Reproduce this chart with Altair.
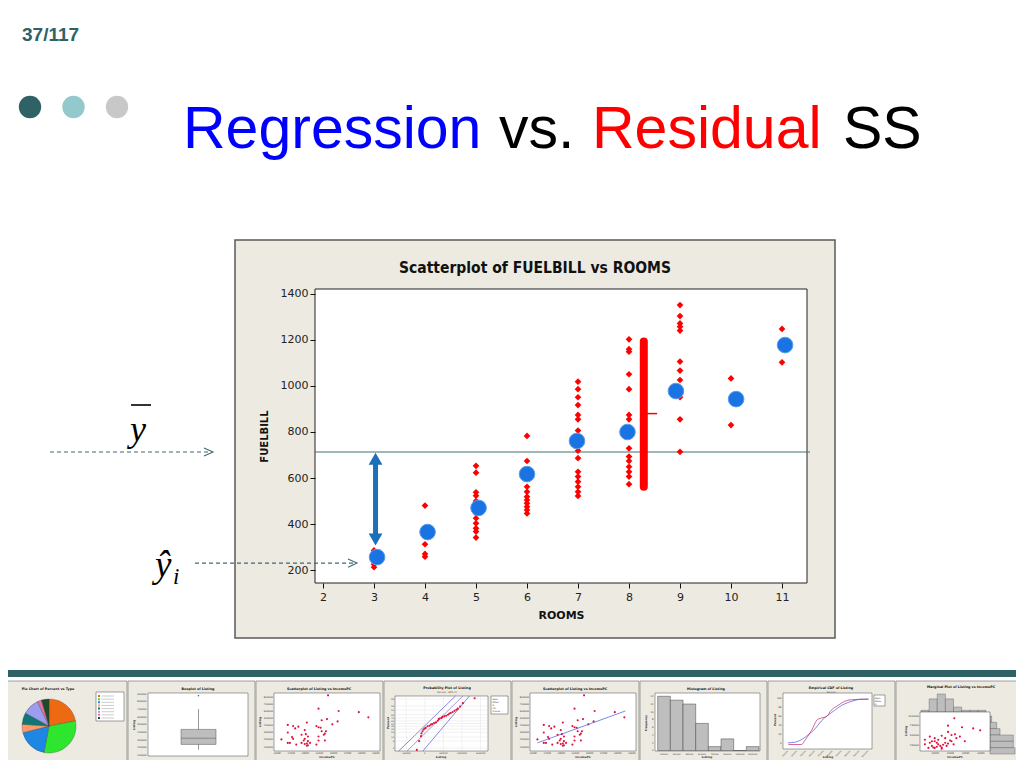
import altair as alt
import pandas as pd

# ------------------------------------------------------------------ data
ROOMS = [3, 4, 5, 6, 7, 8, 9, 10, 11]
FUEL_3 = [285, 265, 245, 225, 212]
FUEL_4 = [480, 380, 360, 312, 270, 258]
FUEL_5 = [653, 623, 538, 523, 500, 470, 446, 425, 403, 381, 367, 341]
FUEL_6 = [783, 674, 630, 600, 562, 540, 519, 504, 490, 475, 461, 446]
FUEL_7 = [1019, 986, 951, 917, 874, 855, 806, 740, 719, 686, 627, 606, 584, 562, 540, 522]
FUEL_8 = [1203, 1160, 1149, 1051, 986, 874, 855, 729, 693, 674, 649, 627, 606, 573]
FUEL_9 = [1352, 1304, 1272, 1258, 1241, 1106, 1067, 1026, 951, 855, 714]
FUEL_10 = [1033, 830]
FUEL_11 = [1248, 1103]
FITTED_X = [3.06, 4.05, 5.05, 6.0, 6.98, 7.97, 8.92, 10.1, 11.06]
FITTED = [256, 365, 470, 617, 761, 800, 978, 943, 1178]
YBAR = 713
YHAT_LEVEL = 230
REG_ROOM, REG_LO, REG_HI = 3.03, 333, 684
RES_ROOM, RES_LO, RES_HI = 8.29, 562, 1193
RES_TICK_X, RES_TICK_Y = [8.35, 8.55], 880
X_TICKS = [2, 3, 4, 5, 6, 7, 8, 9, 10, 11]
Y_TICKS = [200, 400, 600, 800, 1000, 1200, 1400]
X_DOMAIN = [1.843, 11.49]
Y_DOMAIN = [143.5, 1421.7]

# thumbnails (local units 0-100 where no scale is legible)
PIE_PCT = [22, 31, 18, 5, 7, 10, 2.5, 4.5]
BOX_LO, BOX_Q1, BOX_MED, BOX_Q3, BOX_HI, BOX_OUT = 170000, 239000, 320000, 436000, 703000, 877000
SCAT_X = [51, 42, 61, 80, 89, 31, 50, 45, 40, 42, 44, 60, 55, 13, 18, 23, 13, 20, 29, 26, 30, 32, 17,
          18, 7, 29, 42, 49, 48, 47, 28, 32, 34, 31, 13, 15, 21, 26, 29, 42, 40, 32, 31, 48, 45]
SCAT_Y = [96, 73, 69, 67, 58, 49, 55, 53, 43, 41, 40, 51, 46, 45, 43, 42, 32, 39, 36, 28, 29, 25, 24,
          21, 20, 21, 25, 34, 30, 28, 18, 17, 14, 13, 14, 14, 11, 14, 12, 18, 11, 10, 9, 18, 34]
FIT_LINE_X = [7, 90]
FIT_LINE_Y = [14, 69]
PROB_X = [23.5, 26, 28, 28.5, 29.6, 30.7, 31.8, 33, 35, 37, 38.6, 40, 42, 44, 46, 47, 48, 50, 51, 53,
          55, 57, 58.5, 60, 62, 64, 66, 67.5, 70, 73, 85.6]
PROB_Y = [2, 18, 27, 32, 36, 39, 41, 42, 45, 46, 48, 49, 51, 52, 55, 58, 59, 60, 62, 63,
          64, 66, 68, 69, 71, 73, 75, 77, 81, 87, 96]
PROB_LOWER = [[4, 0], [65, 100]]
PROB_FIT = [[13, 0], [73, 100]]
PROB_UPPER = [[30, 0], [80, 100]]
PROB_Z = [-2.326, -1.645, -1.282, -0.842, -0.524, -0.253, 0, 0.253, 0.524, 0.842, 1.282, 1.645, 2.326]
PROB_PCT = ["1", "5", "10", "20", "30", "40", "50", "60", "70", "80", "90", "95", "99"]
HIST_COUNTS = [14, 13, 12, 7, 1, 3, 0, 1]
HIST_LABELS = ["150000", "300000", "450000", "600000", "750000", "900000", "1050000", "1200000"]
ECDF_FIT_X = [5.6, 13, 21, 28, 36, 43, 51, 58, 66, 73, 81, 88, 96]
ECDF_FIT_Y = [11, 12, 17, 25, 36, 50, 61, 69, 78, 83, 87, 89, 89]
ECDF_EMP_X = [6, 21, 24, 32, 39, 45, 49, 54, 62, 69, 77, 96]
ECDF_EMP_Y = [8, 8, 14, 33, 53, 56, 58, 69, 78, 85, 88, 89]
MARG_X = [49, 40, 60, 76, 86, 14, 21, 31, 40, 45, 50, 52, 7, 17, 24, 26, 29, 31, 33, 36, 40, 43, 17,
          19, 21, 24, 12, 31, 38, 45, 57, 64, 26, 21, 36, 48, 7, 14]
MARG_Y = [84, 65, 61, 58, 53, 37, 33, 39, 49, 41, 43, 33, 17, 25, 21, 17, 13, 9, 16, 21, 19, 27, 13,
          9, 8, 11, 8, 6, 13, 25, 37, 25, 29, 25, 33, 17, 29, 21]
MARG_TOP = [1, 8, 11, 8, 3, 1, 1, 1]
MARG_RIGHT = [1, 4, 6, 14, 14, 15]

# ------------------------------------------------------------------ layout / style
OX, OY = 315, 289          # page position of the scatter plot area
VW, VH = 492, 294
MF = "DejaVu Sans"
SF = "Liberation Sans"
SERIF = "Liberation Serif"
TEAL = "#2E6264"
DOT_COLORS = ["#2E6264", "#93C8CC", "#C8C8C8"]
PIE_COLORS = ["#EE6A12", "#2FE62F", "#1E86E3", "#FF9966", "#117676", "#9C9CF0", "#E8729C", "#1F4A2A"]
BEIGE = "#EDEAE1"
RED_PT = "#E0103C"
TB = 751            # bottom of thumbnail plot areas (page is cut just below)

def pxx(v):
    return v - OX

def pxy(v):
    return v - OY

ONE = pd.DataFrame({"k": [0]})

def sc(lo, hi, r0=None, r1=None):
    if r0 is None:
        return alt.Scale(domain=[lo, hi], nice=False, zero=False)
    return alt.Scale(domain=[lo, hi], range=[r0, r1], nice=False, zero=False)

def sx(lo, hi, p0, p1):
    return sc(lo, hi, pxx(p0), pxx(p1))

def sy(lo, hi, pb, pt):
    return sc(lo, hi, pxy(pb), pxy(pt))

def prect(x0, x1, y0, y1, **kw):
    return alt.Chart(ONE).mark_rect(**kw).encode(
        x=alt.value(pxx(x0)), x2=alt.value(pxx(x1)),
        y=alt.value(pxy(y0)), y2=alt.value(pxy(y1)))

def ptext(txt, x, y, **kw):
    return alt.Chart(ONE).mark_text(text=txt, **kw).encode(
        x=alt.value(pxx(x)), y=alt.value(pxy(y)))

def phrule(x0, x1, y, **kw):
    return alt.Chart(ONE).mark_rule(**kw).encode(
        x=alt.value(pxx(x0)), x2=alt.value(pxx(x1)), y=alt.value(pxy(y)))

def tiny(txt, x, y, size=2.6, **kw):
    base = dict(font=MF, fontSize=size, color="#333")
    base.update(kw)
    return ptext(txt, x, y, **base)

def ylabels(vals, labels, scale, xpage, size=2.4):
    df = pd.DataFrame({"v": vals, "t": labels})
    return alt.Chart(df).mark_text(align="right", baseline="middle", font=MF, fontSize=size,
                                   color="#333").encode(
        y=alt.Y("v:Q", scale=scale, axis=None), x=alt.value(pxx(xpage)), text="t:N")

def xlabels(vals, labels, scale, ypage, size=2.3, angle=0, align="center"):
    df = pd.DataFrame({"v": vals, "t": labels})
    return alt.Chart(df).mark_text(align=align, baseline="middle", font=MF, fontSize=size,
                                   color="#333", angle=angle).encode(
        x=alt.X("v:Q", scale=scale, axis=None), y=alt.value(pxy(ypage)), text="t:N")

layers = []

# ------------------------------------------------------------------ slide header
layers.append(ptext("37/117", 22, 35, align="left", font=SF, fontSize=19, fontWeight="bold", color=TEAL))
dots = pd.DataFrame({"x": [pxx(30 + 43.5 * i) for i in range(3)], "c": DOT_COLORS})
layers.append(alt.Chart(dots).mark_circle(size=500, opacity=1).encode(
    x=alt.X("x:Q", scale=None), y=alt.value(pxy(107)), color=alt.Color("c:N", scale=None)))
for txt, x0, col in [("Regression", 183, "#0000FF"), ("vs.", 499, "#000000"),
                     ("Residual", 592, "#FF0000"), ("SS", 843, "#000000")]:
    layers.append(ptext(txt, x0, 130, align="left", font=SF, fontSize=59, color=col))

# y-bar and y-hat symbols
layers.append(ptext("y", 138, 430, align="center", font=SERIF, fontStyle="italic", fontSize=36, color="black"))
layers.append(phrule(131, 151, 405, color="black", strokeWidth=1.6))
layers.append(ptext("ŷ", 155, 566, align="left", font=SERIF, fontStyle="italic", fontSize=37, color="black"))
layers.append(ptext("i", 173, 577, align="left", font=SERIF, fontStyle="italic", fontSize=23, color="black"))

# ------------------------------------------------------------------ Minitab frame
layers.append(prect(235, 835, 240, 638, fill=BEIGE, stroke="#5A5A5A", strokeWidth=1.5))
layers.append(prect(315, 807, 289, 583, fill="white", stroke="#222222", strokeWidth=1))
layers.append(ptext("Scatterplot of FUELBILL vs ROOMS", 535, 268, align="center", baseline="middle",
                    font="DejaVu Sans Condensed, DejaVu Sans", fontSize=15.5, fontWeight="bold", color="#111"))

XS = sc(*X_DOMAIN)
YS = sc(*Y_DOMAIN)

# mean line
layers.append(alt.Chart(pd.DataFrame({"y": [YBAR]})).mark_rule(color="#41706F", strokeWidth=1).encode(
    y=alt.Y("y:Q", scale=YS, axis=None), x=alt.value(0), x2=alt.value(VW + 3)))

# residual bracket
layers.append(alt.Chart(pd.DataFrame({"x": [RES_ROOM], "lo": [RES_LO], "hi": [RES_HI]})).mark_rule(
    color="#FF0000", strokeWidth=8, strokeCap="round").encode(
    x=alt.X("x:Q", scale=XS, axis=None), y=alt.Y("lo:Q", scale=YS, axis=None), y2="hi:Q"))
layers.append(alt.Chart(pd.DataFrame({"x": [RES_TICK_X[0]], "x2": [RES_TICK_X[1]], "y": [RES_TICK_Y]})).mark_rule(
    color="#FF0000", strokeWidth=1.5).encode(
    x=alt.X("x:Q", scale=XS, axis=None), x2="x2:Q", y=alt.Y("y:Q", scale=YS, axis=None)))

# red data points
red_rows = []
for r, vals in zip(ROOMS, [FUEL_3, FUEL_4, FUEL_5, FUEL_6, FUEL_7, FUEL_8, FUEL_9, FUEL_10, FUEL_11]):
    for v in vals:
        red_rows.append({"ROOMS": r, "FUELBILL": v})
df_red = pd.DataFrame(red_rows)

AX = alt.Axis(values=X_TICKS, title="ROOMS", grid=False, domain=False, tickSize=5, tickColor="#111",
              labelFont=MF, labelFontSize=11, labelColor="#222", labelPadding=3, labelFlush=False,
              titleFont=MF, titleFontSize=11, titleFontWeight="bold", titleColor="#111",
              titlePadding=7, zindex=1)
AY = alt.Axis(values=Y_TICKS, format="d", title="FUELBILL", grid=False, domain=False, tickSize=5,
              tickColor="#111", labelFont=MF, labelFontSize=11, labelColor="#222", labelPadding=2,
              titleFont=MF, titleFontSize=10, titleFontWeight="bold", titleColor="#111",
              titlePadding=11, zindex=1)
layers.append(alt.Chart(df_red).mark_point(shape="diamond", filled=True, color="#FF0000", size=45,
                                           opacity=1).encode(
    x=alt.X("ROOMS:Q", scale=XS, axis=AX), y=alt.Y("FUELBILL:Q", scale=YS, axis=AY)))

# fitted values (blue circles)
df_fit = pd.DataFrame({"x": FITTED_X, "y": FITTED})
layers.append(alt.Chart(df_fit).mark_circle(size=245, color="#1A73E3", opacity=1, stroke="#5C9CEA",
                                            strokeWidth=1).encode(
    x=alt.X("x:Q", scale=XS, axis=None), y=alt.Y("y:Q", scale=YS, axis=None)))

# regression double arrow
BLUE_AR = "#1C6FB9"
layers.append(alt.Chart(pd.DataFrame({"x": [REG_ROOM], "lo": [REG_LO], "hi": [REG_HI]})).mark_rule(
    color=BLUE_AR, strokeWidth=5).encode(
    x=alt.X("x:Q", scale=XS, axis=None), y=alt.Y("lo:Q", scale=YS, axis=None), y2="hi:Q"))
layers.append(alt.Chart(pd.DataFrame({"x": [REG_ROOM, REG_ROOM], "y": [REG_HI, REG_LO],
                                      "s": ["triangle-up", "triangle-down"]})).mark_point(
    filled=True, size=190, color=BLUE_AR, opacity=1).encode(
    x=alt.X("x:Q", scale=XS, axis=None), y=alt.Y("y:Q", scale=YS, axis=None),
    shape=alt.Shape("s:N", scale=None)))

# dashed pointer arrows
CHEV = "M-1,-0.45L0,0L-1,0.45"
ARC = "#3E6B6E"
for level, x0, x1 in [(YBAR, 50, 213), (YHAT_LEVEL, 195, 357)]:
    d = pd.DataFrame({"y": [level]})
    layers.append(alt.Chart(d).mark_rule(color=ARC, strokeWidth=1.1, strokeDash=[4, 3]).encode(
        x=alt.value(pxx(x0)), x2=alt.value(pxx(x1 - 1)), y=alt.Y("y:Q", scale=YS, axis=None)))
    layers.append(alt.Chart(d).mark_point(shape=CHEV, filled=False, size=324, stroke=ARC,
                                          strokeWidth=1.1, opacity=1).encode(
        x=alt.value(pxx(x1)), y=alt.Y("y:Q", scale=YS, axis=None)))

# ------------------------------------------------------------------ bottom strip
layers.append(prect(8, 1016, 670, 677, fill=TEAL))
PW = 128
frames = pd.DataFrame({"x0": [pxx(i * PW) for i in range(8)], "x1": [pxx(i * PW + 127) for i in range(8)]})
layers.append(alt.Chart(frames).mark_rect(fill="#EDEAE2", stroke="#8A8A8A", strokeWidth=0.8).encode(
    x=alt.X("x0:Q", scale=None), x2="x1:Q", y=alt.value(pxy(681)), y2=alt.value(pxy(775))))

# marginal histograms (drawn before the white plot areas)
mt = pd.DataFrame({"a": list(range(8)), "b": [i + 1 for i in range(8)], "c": MARG_TOP, "z": [0] * 8})
layers.append(alt.Chart(mt).mark_rect(fill="#BDBDBD", stroke="#555", strokeWidth=0.4).encode(
    x=alt.X("a:Q", scale=sx(0, 8, 921, 986), axis=None), x2="b:Q",
    y=alt.Y("z:Q", scale=sy(0, 11, 712, 694), axis=None), y2="c:Q"))
mr = pd.DataFrame({"a": list(range(6)), "b": [i + 1 for i in range(6)], "c": MARG_RIGHT, "z": [0] * 6})
layers.append(alt.Chart(mr).mark_rect(fill="#BDBDBD", stroke="#555", strokeWidth=0.4).encode(
    y=alt.Y("a:Q", scale=sc(0, 6, pxy(716), pxy(754)), axis=None), y2="b:Q",
    x=alt.X("z:Q", scale=sx(0, 15, 990, 1015), axis=None), x2="c:Q"))

WHITE = [(148, 248, 693, 756), (274, 380, 693, TB), (395, 488, 696, TB), (530, 636, 693, TB),
         (655, 760, 693, TB), (783, 872, 693, 749), (920, 990, 712, TB),
         (96, 124, 692, 721), (491, 508, 696, 714), (874, 885, 695, 706)]
wdf = pd.DataFrame({"x0": [pxx(w[0]) for w in WHITE], "x1": [pxx(w[1]) for w in WHITE],
                    "y0": [pxy(w[2]) for w in WHITE], "y1": [pxy(w[3]) for w in WHITE]})
layers.append(alt.Chart(wdf).mark_rect(fill="white", stroke="#444", strokeWidth=0.5).encode(
    x=alt.X("x0:Q", scale=None), x2="x1:Q", y=alt.Y("y0:Q", scale=None), y2="y1:Q"))

TITLES = [("Pie Chart of Percent vs Type", 48, 689), ("Boxplot of Listing", 198, 689),
          ("Scatterplot of Listing vs IncomePC", 319, 689), ("Probability Plot of Listing", 447, 687.5),
          ("Scatterplot of Listing vs IncomePC", 575, 689), ("Histogram of Listing", 706, 689),
          ("Empirical CDF of Listing", 831, 687.5), ("Marginal Plot of Listing vs IncomePC", 961, 686.5)]
for t, x, y in TITLES:
    layers.append(tiny(t, x, y, size=3.3, fontWeight="bold", color="#111", align="center", baseline="middle"))
layers.append(tiny("Normal - 95% CI", 447, 692, size=2.4, color="#444", align="center", baseline="middle"))
layers.append(tiny("Normal", 831, 692, size=2.4, color="#444", align="center", baseline="middle"))

# --- P1 pie
pie = pd.DataFrame({"i": list(range(len(PIE_PCT))), "pct": PIE_PCT, "c": PIE_COLORS})
layers.append(alt.Chart(pie).mark_arc(radius=27, stroke="#333", strokeWidth=0.3).encode(
    theta=alt.Theta("pct:Q", stack=True), order=alt.Order("i:Q"), fill=alt.Fill("c:N", scale=None),
    x=alt.value(pxx(49)), y=alt.value(pxy(726))))
layers.append(alt.Chart(pie).mark_square(size=4, opacity=1).encode(
    y=alt.Y("i:Q", scale=sy(0, 7, 696, 718), axis=None), x=alt.value(pxx(99)),
    color=alt.Color("c:N", scale=None)))
layers.append(alt.Chart(pie).mark_rule(color="#AAAAAA", strokeWidth=0.6).encode(
    y=alt.Y("i:Q", scale=sy(0, 7, 696, 718), axis=None), x=alt.value(pxx(101.5)), x2=alt.value(pxx(114))))

# --- P2 boxplot
BOXS = sy(100000, 900000, 755, 694)
box = pd.DataFrame({"lo": [BOX_LO], "q1": [BOX_Q1], "m": [BOX_MED], "q3": [BOX_Q3], "hi": [BOX_HI], "o": [BOX_OUT]})
layers.append(alt.Chart(box).mark_rule(color="#555", strokeWidth=0.6).encode(
    x=alt.value(pxx(198.5)), y=alt.Y("lo:Q", scale=BOXS, axis=None), y2="hi:Q"))
layers.append(alt.Chart(box).mark_rect(fill="#BDBDBD", stroke="#555", strokeWidth=0.5).encode(
    x=alt.value(pxx(181)), x2=alt.value(pxx(216)), y=alt.Y("q1:Q", scale=BOXS, axis=None), y2="q3:Q"))
layers.append(alt.Chart(box).mark_rule(color="#555", strokeWidth=0.5).encode(
    x=alt.value(pxx(181)), x2=alt.value(pxx(216)), y=alt.Y("m:Q", scale=BOXS, axis=None)))
layers.append(alt.Chart(box).mark_point(shape="cross", filled=True, size=3, color="#555", opacity=1).encode(
    x=alt.value(pxx(198.5)), y=alt.Y("o:Q", scale=BOXS, axis=None)))
bv = [100000 * k for k in range(1, 10)]
layers.append(ylabels(bv, [str(v) for v in bv], BOXS, 146.5))
layers.append(tiny("Listing", 134, 725, size=2.8, fontWeight="bold", angle=270, align="center", baseline="middle"))

# --- P3 & P5 scatter
scat = pd.DataFrame({"x": SCAT_X, "y": SCAT_Y})
for x0, x1 in [(274, 380), (530, 636)]:
    layers.append(alt.Chart(scat).mark_circle(size=4.5, color=RED_PT, opacity=1).encode(
        x=alt.X("x:Q", scale=sx(0, 100, x0, x1), axis=None), y=alt.Y("y:Q", scale=sy(0, 100, TB, 693), axis=None)))
    lv = [100000 * k for k in range(1, 9)]
    layers.append(ylabels(lv, [str(v) for v in lv], sy(40000, 860000, TB, 693), x0 - 1))
    iv = [15000 + 2500 * k for k in range(8)]
    layers.append(xlabels(iv, [str(v) for v in iv], sx(14440, 33240, x0, x1), 753.5))
    layers.append(tiny("IncomePC", (x0 + x1) / 2, 757, size=2.8, fontWeight="bold", align="center", baseline="middle"))
    layers.append(tiny("Listing", x0 - 14, 722, size=2.8, fontWeight="bold", angle=270, align="center", baseline="middle"))
fitl = pd.DataFrame({"x": FIT_LINE_X, "y": FIT_LINE_Y})
layers.append(alt.Chart(fitl).mark_line(color="#4455DD", strokeWidth=0.7).encode(
    x=alt.X("x:Q", scale=sx(0, 100, 530, 636), axis=None), y=alt.Y("y:Q", scale=sy(0, 100, TB, 693), axis=None)))

# --- P4 probability plot
PZS = sy(-2.6, 2.6, TB, 696)
gz = pd.DataFrame({"z": PROB_Z, "t": PROB_PCT})
layers.append(alt.Chart(gz).mark_rule(color="#DDDDDD", strokeWidth=0.4).encode(
    y=alt.Y("z:Q", scale=PZS, axis=None), x=alt.value(pxx(395.5)), x2=alt.value(pxx(487.5))))
PXS = sx(-800000, 1700000, 395, 488)
gx = pd.DataFrame({"v": [-500000, 0, 500000, 1000000, 1500000]})
layers.append(alt.Chart(gx).mark_rule(color="#DDDDDD", strokeWidth=0.4).encode(
    x=alt.X("v:Q", scale=PXS, axis=None), y=alt.value(pxy(696.5)), y2=alt.value(pxy(TB - 0.5))))
plines = pd.DataFrame({"id": ["a", "a", "b", "b", "c", "c"],
                       "x": [p[0] for p in PROB_LOWER + PROB_FIT + PROB_UPPER],
                       "y": [p[1] for p in PROB_LOWER + PROB_FIT + PROB_UPPER],
                       "c": ["#3A3AC8", "#3A3AC8", "#7050D0", "#7050D0", "#3A3AC8", "#3A3AC8"]})
layers.append(alt.Chart(plines).mark_line(strokeWidth=0.6).encode(
    x=alt.X("x:Q", scale=sx(0, 100, 395, 488), axis=None), y=alt.Y("y:Q", scale=sy(0, 100, TB, 696), axis=None),
    detail="id:N", color=alt.Color("c:N", scale=None)))
layers.append(alt.Chart(pd.DataFrame({"x": PROB_X, "y": PROB_Y})).mark_circle(size=4.5, color=RED_PT, opacity=1).encode(
    x=alt.X("x:Q", scale=sx(0, 100, 395, 488), axis=None), y=alt.Y("y:Q", scale=sy(0, 100, TB, 696), axis=None)))
layers.append(ylabels(PROB_Z, PROB_PCT, PZS, 394, size=2.1))
layers.append(xlabels([-500000, 0, 500000, 1000000, 1500000], ["-500000", "0", "500000", "1000000", "1500000"],
                      PXS, 753.5, size=2.2))
layers.append(tiny("Listing", 441, 757, size=2.8, fontWeight="bold", align="center", baseline="middle"))
layers.append(tiny("Percent", 388, 723, size=2.8, fontWeight="bold", angle=270, align="center", baseline="middle"))
for k, t in enumerate(["Mean", "StDev", "N", "AD", "P-Value"]):
    layers.append(tiny(t, 492.5, 698.5 + 3.2 * k, size=2.1, align="left", baseline="middle"))

# --- P6 histogram
hist = pd.DataFrame({"a": list(range(8)), "b": [i + 1 for i in range(8)], "c": HIST_COUNTS, "z": [0] * 8,
                     "m": [i + 0.5 for i in range(8)], "t": HIST_LABELS})
HXS = sx(0, 8, 657.7, 759)
HYS = sy(0, 14, TB - 0.5, 696.3)
layers.append(alt.Chart(hist).mark_rect(fill="#BEBEBE", stroke="#444", strokeWidth=0.5).encode(
    x=alt.X("a:Q", scale=HXS, axis=None), x2="b:Q", y=alt.Y("z:Q", scale=HYS, axis=None), y2="c:Q"))
hv = [0, 2, 4, 6, 8, 10, 12, 14]
layers.append(ylabels(hv, [str(v) for v in hv], HYS, 653.5))
layers.append(xlabels(list(hist["m"]), HIST_LABELS, HXS, 753.5, size=2.1))
layers.append(tiny("Listing", 707, 757, size=2.8, fontWeight="bold", align="center", baseline="middle"))
layers.append(tiny("Frequency", 646, 723, size=2.8, fontWeight="bold", angle=270, align="center", baseline="middle"))

# --- P7 ECDF
ecdf = pd.DataFrame({"x": ECDF_FIT_X + ECDF_EMP_X, "y": ECDF_FIT_Y + ECDF_EMP_Y,
                     "id": ["fit"] * len(ECDF_FIT_X) + ["emp"] * len(ECDF_EMP_X),
                     "c": ["#4455DD"] * len(ECDF_FIT_X) + ["#D0206A"] * len(ECDF_EMP_X)})
layers.append(alt.Chart(ecdf).mark_line(strokeWidth=0.7, interpolate="monotone").encode(
    x=alt.X("x:Q", scale=sx(0, 100, 783, 872), axis=None), y=alt.Y("y:Q", scale=sy(0, 100, 749, 693), axis=None),
    detail="id:N", color=alt.Color("c:N", scale=None)))
ev = [0, 20, 40, 60, 80, 100]
layers.append(ylabels(ev, [str(v) for v in ev], sy(0, 100, 742.8, 698.4), 781.5))
exv = [10 * k + 5 for k in range(10)]
layers.append(xlabels(exv, [str(100000 * (k + 1)) for k in range(10)], sx(0, 100, 783, 872), 750.5,
                      size=2.0, angle=315, align="right"))
layers.append(tiny("Listing", 828, 757, size=2.8, fontWeight="bold", align="center", baseline="middle"))
layers.append(tiny("Percent", 775, 720, size=2.8, fontWeight="bold", angle=270, align="center", baseline="middle"))
for k, t in enumerate(["Mean", "StDev", "N"]):
    layers.append(tiny(t, 875, 697.5 + 3.2 * k, size=2.1, align="left", baseline="middle"))

# --- P8 marginal plot
layers.append(alt.Chart(pd.DataFrame({"x": MARG_X, "y": MARG_Y})).mark_circle(size=4.5, color=RED_PT, opacity=1).encode(
    x=alt.X("x:Q", scale=sx(0, 100, 920, 990), axis=None), y=alt.Y("y:Q", scale=sy(0, 100, TB, 712), axis=None)))
mv = [250000, 500000, 750000, 1000000]
layers.append(ylabels(mv, [str(v) for v in mv], sy(100000, 1100000, TB, 712), 919))
mxv = [20000, 25000, 30000, 35000]
layers.append(xlabels(mxv, [str(v) for v in mxv], sx(15000, 38000, 920, 990), 753.5))
layers.append(tiny("IncomePC", 955, 757, size=2.8, fontWeight="bold", align="center", baseline="middle"))
layers.append(tiny("Listing", 906, 731, size=2.8, fontWeight="bold", angle=270, align="center", baseline="middle"))

# ------------------------------------------------------------------ assemble
chart = alt.layer(*layers).properties(
    width=VW, height=VH,
    padding={"left": OX - 8, "top": OY - 8, "right": 1016 - OX - VW, "bottom": 760 - OY - VH},
    autosize=alt.AutoSizeParams(type="none"),
    background="white",
).resolve_scale(x="independent", y="independent").configure_view(stroke=None)

chart.save("out.html", embed_options={"renderer": "svg", "actions": False})
